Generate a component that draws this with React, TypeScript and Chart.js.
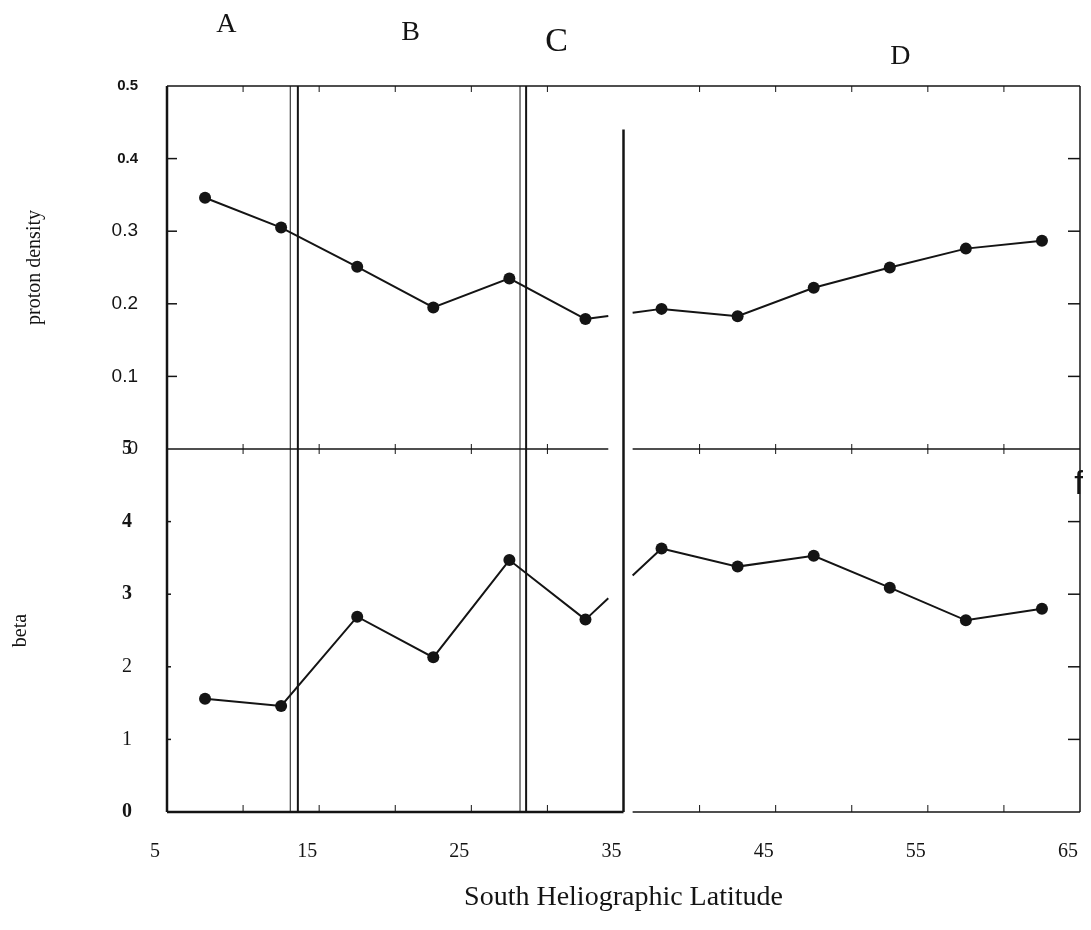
import React, { useEffect, useRef } from 'react';
import { Chart, registerables } from 'chart.js';

Chart.register(...registerables);

// Latitude bin centres (degrees south) and the averaged quantities per bin
const LATITUDES = [7.5, 12.5, 17.5, 22.5, 27.5, 32.5, 37.5, 42.5, 47.5, 52.5, 57.5, 62.5];
const PROTON_DENSITY = [0.346, 0.305, 0.251, 0.195, 0.235, 0.179, 0.193, 0.183, 0.222, 0.25, 0.276, 0.287];
const BETA = [1.56, 1.46, 2.69, 2.13, 3.47, 2.65, 3.63, 3.38, 3.53, 3.09, 2.64, 2.8];

// Axis ticks
const X_LABEL_TICKS = [5, 15, 25, 35, 45, 55, 65];
const X_MINOR_TICKS = [10, 15, 20, 25, 30, 40, 45, 50, 55, 60];
const DENSITY_LABEL_TICKS = [0, 0.1, 0.2, 0.3, 0.4, 0.5];
const BETA_LABEL_TICKS = [0, 1, 2, 3, 4, 5];
const DENSITY_MINOR_TICKS = [0.1, 0.2, 0.3, 0.4];
const BETA_MINOR_TICKS = [1, 2, 3, 4];

// Latitude regions
const REGION_NAMES = ['A', 'B', 'C', 'D'];
const REGION_LABEL_LAT = [8.9, 21, 30.6, 53.2];
const REGION_BOUNDARIES = [
  [13.1, 13.6],
  [28.2, 28.6],
];
const PANEL_SPLIT = 35;
const BREAK_RANGE = [34.0, 35.6];

// Label styling
const REGION_FONT_SIZES = [28, 28, 34, 28];
const REGION_LABEL_RISE = [61, 53, 44, 29];
const INK = '#141414';

// Leaves a gap in the connecting line where it crosses the break between the two plots
const breakDash = (ctx: any) => {
  const x0 = LATITUDES[ctx.p0DataIndex];
  const x1 = LATITUDES[ctx.p1DataIndex];
  if (!(x0 < BREAK_RANGE[0] && x1 > BREAK_RANGE[1])) return undefined;
  const sx = ctx.chart.scales.x;
  const { p0, p1 } = ctx;
  const a = sx.getPixelForValue(BREAK_RANGE[0]);
  const b = sx.getPixelForValue(BREAK_RANGE[1]);
  const dx = p1.x - p0.x;
  const len = Math.hypot(dx, p1.y - p0.y);
  return [((a - p0.x) / dx) * len, ((b - a) / dx) * len, 2 * len];
};

const framePlugin = {
  id: 'panelFrame',
  beforeDatasetsDraw(chart: any) {
    const { ctx } = chart;
    const sx = chart.scales.x;
    const yd = chart.scales.density;
    const yb = chart.scales.beta;
    const px = (v: number) => sx.getPixelForValue(v);
    const L = px(5);
    const R = px(65);
    const T = yd.getPixelForValue(0.5);
    const M = yd.getPixelForValue(0);
    const B = yb.getPixelForValue(0);
    const seg = (x1: number, y1: number, x2: number, y2: number, w: number) => {
      ctx.lineWidth = w;
      ctx.beginPath();
      ctx.moveTo(x1, y1);
      ctx.lineTo(x2, y2);
      ctx.stroke();
    };
    ctx.save();
    ctx.strokeStyle = INK;
    ctx.lineCap = 'butt';

    // outer frame and panel separators
    seg(L, T, R, T, 1.5);
    seg(L, T, L, B, 2.5);
    seg(R, T, R, B, 1.5);
    seg(L, M, px(BREAK_RANGE[0]), M, 1.5);
    seg(px(BREAK_RANGE[1]), M, R, M, 1.5);
    seg(L, B, px(PANEL_SPLIT), B, 2.5);
    seg(px(BREAK_RANGE[1]), B, R, B, 1.5);
    seg(px(PANEL_SPLIT), yd.getPixelForValue(0.44), px(PANEL_SPLIT), B, 2.5);

    // region boundaries
    REGION_BOUNDARIES.forEach(([a, b]) => {
      seg(px(a), T, px(a), B, 1);
      seg(px(b), T, px(b), B, 2);
    });

    // inward tick marks
    X_MINOR_TICKS.forEach((v) => {
      const xx = px(v);
      seg(xx, T, xx, T + 6, 1);
      seg(xx, M - 5, xx, M + 5, 1);
      seg(xx, B, xx, B - 7, 1);
    });
    DENSITY_MINOR_TICKS.forEach((v) => {
      const yy = yd.getPixelForValue(v);
      seg(L, yy, L + 10, yy, 1.5);
      seg(R, yy, R - 12, yy, 1.5);
    });
    BETA_MINOR_TICKS.forEach((v) => {
      const yy = yb.getPixelForValue(v);
      seg(L, yy, L + 4, yy, 1.5);
      seg(R, yy, R - 12, yy, 1.5);
    });
    ctx.restore();
  },
  afterDraw(chart: any) {
    const { ctx, chartArea } = chart;
    const sx = chart.scales.x;
    ctx.save();
    ctx.fillStyle = INK;
    ctx.textAlign = 'center';
    ctx.textBaseline = 'middle';
    REGION_NAMES.forEach((name, i) => {
      ctx.font = `${REGION_FONT_SIZES[i]}px "Liberation Serif"`;
      ctx.fillText(name, sx.getPixelForValue(REGION_LABEL_LAT[i]), chartArea.top - REGION_LABEL_RISE[i]);
    });
    ctx.font = '34px "Liberation Sans"';
    ctx.fillText('f', chartArea.right - 1, chart.scales.density.getPixelForValue(0) + 36);
    ctx.restore();
  },
};

const lineStyle = {
  borderColor: INK,
  backgroundColor: INK,
  borderWidth: 2,
  pointRadius: 6,
  pointBorderWidth: 0,
  pointBackgroundColor: INK,
  tension: 0,
  segment: { borderDash: breakDash },
};

export default function App() {
  const canvasRef = useRef<HTMLCanvasElement | null>(null);

  useEffect(() => {
    if (!canvasRef.current) return;
    const chart = new Chart(canvasRef.current, {
      type: 'line',
      data: {
        datasets: [
          {
            label: 'proton density',
            yAxisID: 'density',
            data: LATITUDES.map((x, i) => ({ x, y: PROTON_DENSITY[i] })),
            ...lineStyle,
          },
          {
            label: 'beta',
            yAxisID: 'beta',
            data: LATITUDES.map((x, i) => ({ x, y: BETA[i] })),
            ...lineStyle,
          },
        ],
      },
      options: {
        responsive: false,
        animation: false,
        layout: { padding: { top: 78, right: 11, left: 0, bottom: 0 } },
        plugins: {
          legend: { display: false },
          tooltip: { enabled: false },
        },
        scales: {
          x: {
            type: 'linear',
            min: 5,
            max: 65,
            // invisible tick marks only push the labels down below the frame
            grid: {
              display: true,
              drawOnChartArea: false,
              drawTicks: true,
              tickLength: 28,
              color: 'rgba(0,0,0,0)',
            },
            border: { display: false },
            afterBuildTicks: (s: any) => {
              s.ticks = X_LABEL_TICKS.map((value) => ({ value }));
            },
            afterFit: (s: any) => {
              s.height = 108;
            },
            ticks: {
              autoSkip: false,
              maxRotation: 0,
              padding: 0,
              labelOffset: -12,
              color: INK,
              font: { family: '"Liberation Serif"', size: 20 },
              callback: (v: any) => String(v),
            },
            title: {
              display: true,
              text: 'South Heliographic Latitude',
              color: INK,
              font: { family: '"Liberation Serif"', size: 28 },
              padding: { top: 0, bottom: 6 },
            },
          },
          beta: {
            type: 'linear',
            position: 'left',
            stack: 'panels',
            stackWeight: 1,
            min: 0,
            max: 5,
            grid: { display: false },
            border: { display: false },
            afterBuildTicks: (s: any) => {
              s.ticks = BETA_LABEL_TICKS.map((value) => ({ value }));
            },
            afterFit: (s: any) => {
              s.width = 159;
            },
            ticks: {
              padding: 27,
              color: INK,
              font: (c: any) => {
                const v = c.tick ? c.tick.value : 1;
                return {
                  family: '"Liberation Serif"',
                  size: 20,
                  weight: v === 1 || v === 2 ? 'normal' : 'bold',
                };
              },
              callback: (v: any) => String(v),
            },
            title: {
              display: true,
              text: 'beta',
              color: INK,
              font: { family: '"Liberation Serif"', size: 20 },
              padding: { top: 1, bottom: 0 },
            },
          },
          density: {
            type: 'linear',
            position: 'left',
            stack: 'panels',
            stackWeight: 1,
            min: 0,
            max: 0.5,
            grid: { display: false },
            border: { display: false },
            afterBuildTicks: (s: any) => {
              s.ticks = DENSITY_LABEL_TICKS.map((value) => ({ value }));
            },
            afterFit: (s: any) => {
              s.width = 159;
            },
            ticks: {
              padding: 21,
              color: INK,
              font: (c: any) => {
                const v = c.tick ? c.tick.value : 0.2;
                const strong = v >= 0.35;
                return {
                  family: '"Liberation Sans"',
                  size: strong ? 15 : 19,
                  weight: strong ? 'bold' : 'normal',
                };
              },
              callback: (v: any) => (v === 0 ? '0' : Number(v).toFixed(1)),
            },
            title: {
              display: true,
              text: 'proton density',
              color: INK,
              font: { family: '"Liberation Serif"', size: 20 },
              padding: { top: 15, bottom: 0 },
            },
          },
        },
      } as any,
      plugins: [framePlugin],
    });
    return () => chart.destroy();
  }, []);

  return <canvas ref={canvasRef} width={1083} height={912} style={{ display: 'block' }} />;
}
